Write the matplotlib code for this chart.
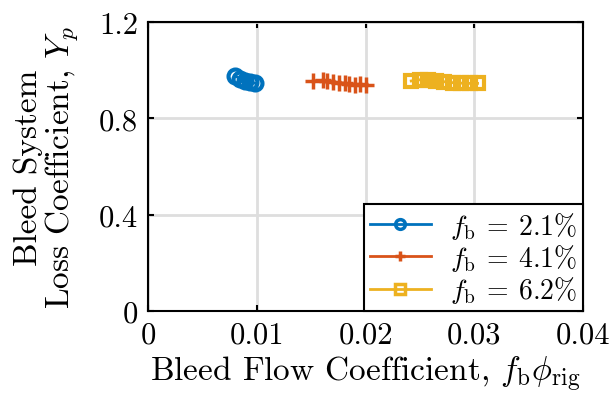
import numpy as np
import matplotlib
matplotlib.use("Agg")
import matplotlib.pyplot as plt

plt.rcParams['font.family'] = 'cmr10'
plt.rcParams['mathtext.fontset'] = 'cm'
plt.rcParams['axes.formatter.use_mathtext'] = True

# bleed flow coefficient vs loss coefficient, one series per bleed fraction
x_21 = [0.0080, 0.0085, 0.0089, 0.0094, 0.0098]
y_21 = [0.975, 0.965, 0.956, 0.950, 0.946]

x_41 = [0.0152, 0.0161, 0.0165, 0.0170, 0.0176, 0.0181, 0.0185, 0.0190, 0.0195, 0.0200]
y_41 = [0.955, 0.958, 0.956, 0.952, 0.948, 0.945, 0.942, 0.940, 0.942, 0.940]

x_62 = [0.0242, 0.0250, 0.0257, 0.0265, 0.0272, 0.0280, 0.0288, 0.0296, 0.0303]
y_62 = [0.955, 0.960, 0.958, 0.955, 0.952, 0.948, 0.946, 0.945, 0.945]

labels = [r'$f_\mathrm{b}\:=\:2.1\%$', r'$f_\mathrm{b}\:=\:4.1\%$', r'$f_\mathrm{b}\:=\:6.2\%$']
colors = ['#0072BD', '#D95319', '#EDB120']

xticks = [0, 0.01, 0.02, 0.03, 0.04]
xticklabels = ['0', '0.01', '0.02', '0.03', '0.04']
yticks = [0, 0.4, 0.8, 1.2]
yticklabels = ['0', '0.4', '0.8', '1.2']

fig = plt.figure(figsize=(6.15, 4.02), dpi=100)
ax = fig.add_axes([0.2407, 0.2239, 0.7073, 0.719])

ax.plot(x_21, y_21, '-o', color=colors[0], lw=2, ms=10, mew=3, mfc='none', label=labels[0])
ax.plot(x_41, y_41, '-+', color=colors[1], lw=2, ms=12, mew=2.5, label=labels[1])
ax.plot(x_62, y_62, '-s', color=colors[2], lw=2, ms=8, mew=3, mfc='none', label=labels[2])

ax.set_xlim(0, 0.04)
ax.set_ylim(0, 1.2)
ax.set_xticks(xticks)
ax.set_xticklabels(xticklabels)
ax.set_yticks(yticks)
ax.set_yticklabels(yticklabels)
ax.tick_params(direction='in', labelsize=22, width=1.5, length=4, pad=7,
               top=True, right=True)
ax.grid(True, color='#dedede', lw=2)
ax.set_axisbelow(True)
for s in ax.spines.values():
    s.set_linewidth(1.5)

ax.set_xlabel(r'Bleed Flow Coefficient, $f_\mathrm{b}\phi_\mathrm{rig}$', fontsize=24, labelpad=4)
ax.set_ylabel('Bleed System\nLoss Coefficient, $Y_p$', fontsize=24, linespacing=1.0, labelpad=14)

leg = ax.legend(loc='lower right', fontsize=20, frameon=True, fancybox=False,
                edgecolor='black', framealpha=1, handlelength=2.2,
                borderaxespad=0, labelspacing=0.05, borderpad=0.2, handletextpad=0.7)
leg.get_frame().set_linewidth(1.5)
for h in leg.legend_handles:
    h.set_markersize(7)
    h.set_markeredgewidth(2.5)

fig.savefig('out.png', dpi=100)
